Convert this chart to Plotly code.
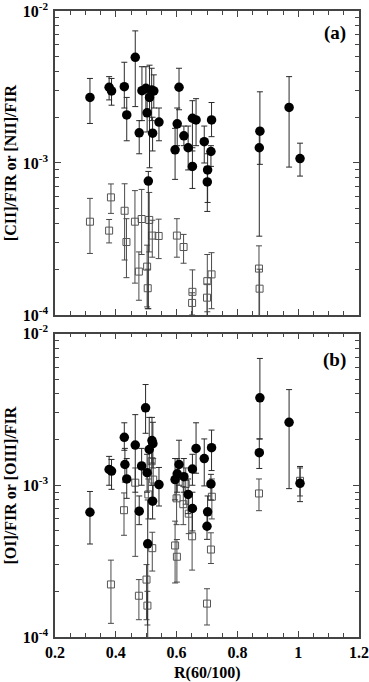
"""
Line-to-FIR ratios against the IRAS colour R(60/100), two log panels
"""
import plotly.graph_objects as go

# ---- panel (a): [CII]/FIR (filled circles) ----
cii_x = [0.315, 0.378, 0.386, 0.428, 0.436, 0.464, 0.477, 0.486, 0.499, 0.503, 0.511,
         0.518, 0.525, 0.521, 0.542, 0.507, 0.595, 0.602, 0.608, 0.624, 0.638, 0.652,
         0.664, 0.652, 0.691, 0.702, 0.713, 0.715, 0.701, 0.874, 0.872, 0.970, 1.006]
cii_val = [2.70e-3, 3.15e-3, 2.98e-3, 3.18e-3, 2.07e-3, 4.96e-3, 1.58e-3, 2.99e-3, 3.10e-3,
           2.14e-3, 2.70e-3, 3.02e-3, 2.98e-3, 1.57e-3, 1.86e-3, 7.6e-4, 1.22e-3, 1.81e-3,
           3.15e-3, 1.51e-3, 1.26e-3, 1.97e-3, 1.92e-3, 9.5e-4, 1.38e-3, 9.0e-4, 1.19e-3,
           1.92e-3, 7.5e-4, 1.62e-3, 1.26e-3, 2.32e-3, 1.07e-3]
cii_lo = [1.82e-3, 2.6e-3, 2.4e-3, 2.3e-3, 1.4e-3, 2.35e-3, 1.15e-3, 1.9e-3, 2.1e-3,
          1.6e-3, 9.3e-4, 1.9e-3, 2.3e-3, 1.2e-3, 1.4e-3, 1.1e-4, 7.8e-4, 1.3e-3,
          2.24e-3, 1.3e-3, 9.0e-4, 1.2e-3, 1.3e-3, 6.8e-4, 1.0e-3, 5.5e-4, 9.5e-4,
          1.49e-3, 4.8e-4, 9.8e-4, 3.3e-4, 9.4e-4, 8.2e-4]
cii_hi = [3.6e-3, 3.7e-3, 3.6e-3, 4.6e-3, 2.7e-3, 7.4e-3, 1.9e-3, 4.3e-3, 4.3e-3,
          2.9e-3, 4.4e-3, 4.2e-3, 3.8e-3, 2.0e-3, 2.3e-3, 8.8e-4, 1.69e-3, 2.3e-3,
          4.2e-3, 1.75e-3, 1.75e-3, 2.57e-3, 2.65e-3, 1.26e-3, 1.75e-3, 1.15e-3, 1.3e-3,
          2.5e-3, 9.5e-4, 2.94e-3, 1.6e-3, 3.7e-3, 1.35e-3]

# ---- panel (a): [NII]/FIR (open squares) ----
nii_x = [0.315, 0.378, 0.384, 0.429, 0.435, 0.463, 0.476, 0.485, 0.503, 0.510, 0.505,
         0.520, 0.541, 0.601, 0.623, 0.652, 0.651, 0.701, 0.700, 0.715, 0.871, 0.873]
nii_val = [4.11e-4, 3.59e-4, 5.94e-4, 4.85e-4, 3.02e-4, 4.11e-4, 1.93e-4, 4.28e-4, 2.08e-4,
           4.22e-4, 1.50e-4, 3.33e-4, 3.31e-4, 3.33e-4, 2.80e-4, 1.42e-4, 1.20e-4, 1.67e-4,
           1.30e-4, 1.85e-4, 2.02e-4, 1.49e-4]
nii_lo = [2.54e-4, 2.98e-4, 4.66e-4, 2.3e-4, 1.76e-4, 1.62e-4, 1.25e-4, 2.5e-4, 1.13e-4,
          2.6e-4, 1.1e-4, 2.4e-4, 2.35e-4, 2.4e-4, 2.19e-4, 9.0e-5, 1.0e-4, 1.05e-4,
          8.0e-5, 1.1e-4, 8.0e-5, 9.0e-5]
nii_hi = [5.85e-4, 4.25e-4, 7.28e-4, 7.3e-4, 4.3e-4, 6.58e-4, 2.6e-4, 6.7e-4, 2.88e-4,
          6.4e-4, 2.0e-4, 4.2e-4, 4.27e-4, 4.3e-4, 3.39e-4, 1.98e-4, 1.4e-4, 2.5e-4,
          1.6e-4, 2.57e-4, 2.85e-4, 2.0e-4]

# ---- panel (b): [OI]/FIR (filled circles) ----
oi_x = [0.378, 0.386, 0.428, 0.430, 0.436, 0.464, 0.485, 0.498, 0.503, 0.510, 0.519,
        0.522, 0.521, 0.542, 0.595, 0.602, 0.608, 0.624, 0.638, 0.652, 0.664, 0.691,
        0.715, 0.713, 0.874, 0.872, 0.970, 1.006, 0.315, 0.477, 0.505, 0.652, 0.702, 0.700]
oi_val = [1.27e-3, 1.24e-3, 2.07e-3, 1.37e-3, 1.10e-3, 1.84e-3, 1.34e-3, 3.24e-3, 1.21e-3,
          1.72e-3, 1.97e-3, 1.88e-3, 7.85e-4, 1.01e-3, 1.09e-3, 1.19e-3, 1.37e-3, 1.14e-3,
          8.7e-4, 1.28e-3, 1.75e-3, 1.50e-3, 1.77e-3, 1.02e-3, 3.77e-3, 1.64e-3, 2.60e-3,
          1.03e-3, 6.64e-4, 6.75e-4, 4.11e-4, 7.03e-4, 6.68e-4, 5.37e-4]
oi_lo = [1.0e-3, 9.4e-4, 1.7e-3, 1.05e-3, 8.2e-4, 9.0e-4, 1.0e-3, 2.2e-3, 9.0e-4,
         1.2e-3, 1.4e-3, 1.3e-3, 6.0e-4, 7.3e-4, 8.0e-4, 9.0e-4, 1.0e-3, 9.0e-4,
         6.5e-4, 1.0e-3, 1.2e-3, 9.9e-4, 1.25e-3, 8.0e-4, 2.02e-3, 1.29e-3, 9.5e-4,
         7.8e-4, 4.1e-4, 5.5e-4, 9.0e-5, 5.0e-4, 5.5e-4, 4.4e-4]
oi_hi = [1.55e-3, 1.48e-3, 2.58e-3, 1.75e-3, 1.5e-3, 2.92e-3, 1.75e-3, 4.61e-3, 1.6e-3,
         2.8e-3, 2.8e-3, 2.6e-3, 1.0e-3, 1.31e-3, 1.5e-3, 1.5e-3, 1.98e-3, 1.5e-3,
         1.1e-3, 1.6e-3, 2.58e-3, 2.02e-3, 2.31e-3, 1.18e-3, 6.85e-3, 2.02e-3, 4.27e-3,
         1.33e-3, 9.1e-4, 8.5e-4, 8.0e-4, 9.0e-4, 8.5e-4, 6.5e-4]

# ---- panel (b): [OIII]/FIR (open squares) ----
oiii_x = [0.464, 0.518, 0.523, 0.427, 0.507, 0.520, 0.384, 0.476, 0.501, 0.504, 0.595,
          0.601, 0.600, 0.622, 0.630, 0.640, 0.651, 0.700, 0.713, 0.716, 0.871, 1.006]
oiii_val = [1.04e-3, 1.44e-3, 1.09e-3, 6.85e-4, 8.7e-4, 3.85e-4, 2.22e-4, 1.87e-4, 2.39e-4,
            1.61e-4, 4.01e-4, 3.38e-4, 8.2e-4, 7.5e-4, 1.02e-3, 6.5e-4, 4.61e-4, 1.66e-4,
            3.77e-4, 8.4e-4, 8.83e-4, 1.07e-3]
oiii_lo = [3.4e-4, 1.0e-3, 7.5e-4, 4.68e-4, 6.0e-4, 2.72e-4, 1.23e-4, 1.3e-4, 1.3e-4,
           1.2e-4, 2.27e-4, 2.3e-4, 5.5e-4, 5.5e-4, 7.5e-4, 4.8e-4, 2.76e-4, 1.2e-4,
           3.05e-4, 6.0e-4, 6.8e-4, 8.5e-4]
oiii_hi = [1.3e-3, 1.9e-3, 1.5e-3, 8.9e-4, 1.1e-3, 4.9e-4, 3.21e-4, 2.39e-4, 3.0e-4,
           2.0e-4, 5.8e-4, 4.39e-4, 1.1e-3, 9.8e-4, 1.3e-3, 8.5e-4, 6.75e-4, 2.08e-4,
           4.86e-4, 1.1e-3, 1.1e-3, 1.3e-3]

# axis ticks
y_tickvals = [1e-4, 1e-3, 1e-2]
y_ticktext = ['10<sup>-4</sup>', '10<sup>-3</sup>', '10<sup>-2</sup>']
y_minorvals = [m * 10.0 ** e for e in (-4, -3) for m in range(2, 10)]

FONT = 'Liberation Serif'
FRAME = '#444444'


def add_series(fig, x, val, lo, hi, filled, xa, ya):
    up = [h - v for h, v in zip(hi, val)]
    down = [v - l for v, l in zip(val, lo)]
    if filled:
        marker = dict(symbol='circle', size=9.5, color='black')
        ecol = '#2a2a2a'
    else:
        marker = dict(symbol='square-open', size=7, color='#555555', line=dict(width=1))
        ecol = '#4a4a4a'
    fig.add_trace(go.Scatter(
        x=x, y=val, mode='markers', marker=marker,
        error_y=dict(type='data', symmetric=False, array=up, arrayminus=down,
                     color=ecol, thickness=1, width=3),
        xaxis=xa, yaxis=ya, showlegend=False, cliponaxis=True,
    ))


fig = go.Figure()
# squares first so circles sit on top
add_series(fig, nii_x, nii_val, nii_lo, nii_hi, False, 'x', 'y')
add_series(fig, cii_x, cii_val, cii_lo, cii_hi, True, 'x', 'y')
add_series(fig, oiii_x, oiii_val, oiii_lo, oiii_hi, False, 'x2', 'y2')
add_series(fig, oi_x, oi_val, oi_lo, oi_hi, True, 'x2', 'y2')

tickfont = dict(family=FONT, size=16, color='black', weight='bold')

xcommon = dict(
    range=[0.2, 1.2], tickmode='linear', tick0=0.2, dtick=0.2,
    ticks='inside', ticklen=6, tickcolor=FRAME, tickwidth=1,
    minor=dict(ticks='inside', ticklen=4, dtick=0.05, tickcolor=FRAME, showgrid=False),
    showline=True, linecolor=FRAME, linewidth=1.5, mirror='ticks',
    showgrid=False, zeroline=False, tickfont=tickfont, automargin=False,
    ticklabeloverflow='allow',
)
ycommon = dict(
    type='log', range=[-4, -2], tickmode='array', tickvals=y_tickvals, ticktext=y_ticktext,
    ticks='inside', ticklen=6, tickcolor=FRAME, tickwidth=1,
    minor=dict(ticks='inside', ticklen=4, tickmode='array', tickvals=y_minorvals,
               tickcolor=FRAME, showgrid=False),
    showline=True, linecolor=FRAME, linewidth=1.5, mirror='ticks',
    showgrid=False, zeroline=False, tickfont=tickfont, ticklabelstandoff=2,
    automargin=False, ticklabeloverflow='allow',
)

fig.update_layout(
    width=369, height=682,
    margin=dict(l=55, r=10, t=11, b=45, autoexpand=False),
    paper_bgcolor='white', plot_bgcolor='white',
    xaxis=dict(xcommon, anchor='y', showticklabels=False),
    yaxis=dict(ycommon, anchor='x', domain=[0.5144, 1.0]),
    xaxis2=dict(xcommon, anchor='y2'),
    yaxis2=dict(ycommon, anchor='x2', domain=[0.0, 0.4848]),
)

afont = dict(family=FONT, size=16, color='black', weight='bold')
fig.add_annotation(text='[CII]/FIR or [NII]/FIR', xref='paper', yref='paper',
                   x=-0.148, y=0.757, textangle=-90, showarrow=False, font=afont,
                   xanchor='center', yanchor='middle')
fig.add_annotation(text='[OI]/FIR or [OIII]/FIR', xref='paper', yref='paper',
                   x=-0.148, y=0.242, textangle=-90, showarrow=False, font=afont,
                   xanchor='center', yanchor='middle')
fig.add_annotation(text='R(60/100)', xref='paper', yref='paper',
                   x=0.5, y=-0.057, showarrow=False, font=afont,
                   xanchor='center', yanchor='middle')
pfont = dict(family=FONT, size=19, color='black', weight='bold')
fig.add_annotation(text='(a)', xref='paper', yref='paper', x=0.921, y=0.965,
                   showarrow=False, font=pfont, xanchor='center', yanchor='middle')
fig.add_annotation(text='(b)', xref='paper', yref='paper', x=0.921, y=0.4425,
                   showarrow=False, font=pfont, xanchor='center', yanchor='middle')

# the page body has a default margin; drop it so the figure sits at the window origin
fig.write_html("out.html", config={'displayModeBar': False},
               post_script="document.body.style.margin='0';")
